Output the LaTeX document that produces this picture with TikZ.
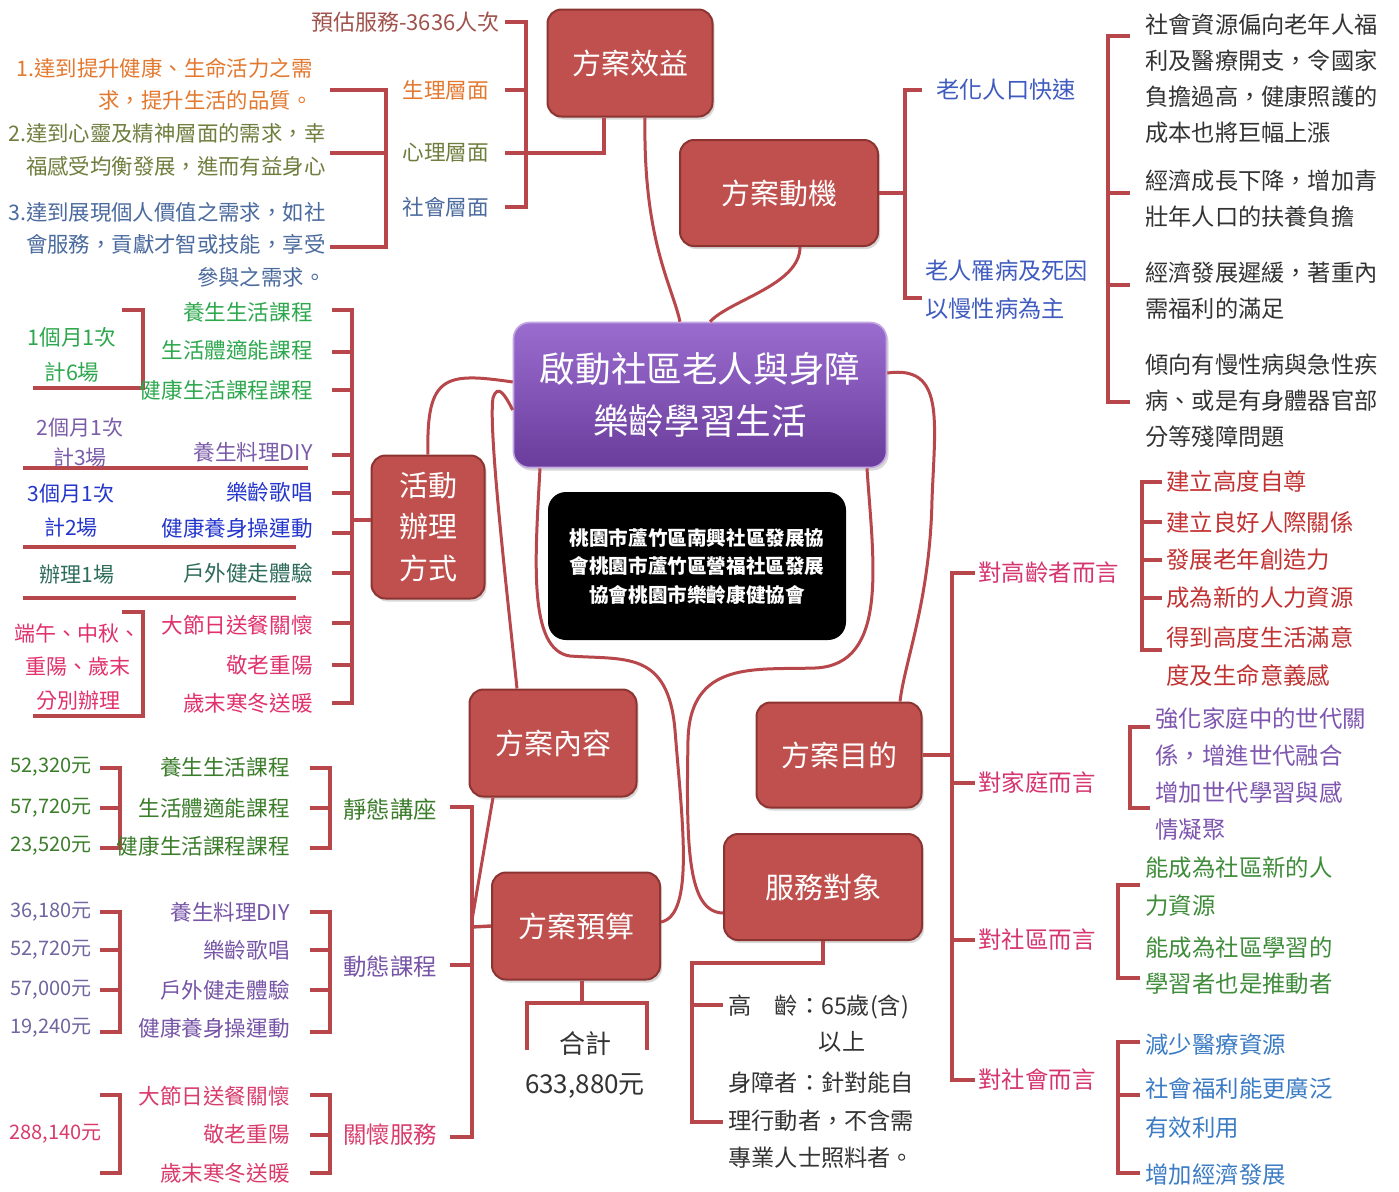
\documentclass[tikz,border=0pt]{standalone}
\usepackage{fontspec}
\setmainfont{Noto Sans CJK TC}
\usetikzlibrary{calc,shadows}
\newcommand\myfs[2]{\fontsize{#1}{#2}\selectfont}
\definecolor{boxred}{HTML}{C0504D}
\definecolor{boxedge}{HTML}{8C3432}
\definecolor{conn}{HTML}{B8474C}
\definecolor{ptop}{HTML}{9A6CCF}
\definecolor{pbot}{HTML}{6A3D9C}
\definecolor{cEst}{HTML}{A0524C}
\definecolor{cOrange}{HTML}{E3782F}
\definecolor{cOlive}{HTML}{6F7E3E}
\definecolor{cSteel}{HTML}{4B6A9E}
\definecolor{cBlueA}{HTML}{3F5BBF}
\definecolor{cGray}{HTML}{333333}
\definecolor{cGreenA}{HTML}{2EA84E}
\definecolor{cPurA}{HTML}{7B5CA9}
\definecolor{cBlueB}{HTML}{2536CC}
\definecolor{cTeal}{HTML}{2D6B5A}
\definecolor{cPink}{HTML}{E0316B}
\definecolor{cGreenB}{HTML}{3B7D2B}
\definecolor{cPurB}{HTML}{7654A6}
\definecolor{cAmtP}{HTML}{6E67A0}
\definecolor{cPinkB}{HTML}{D93C6C}
\definecolor{cPinkL}{HTML}{D6346F}
\definecolor{cRed}{HTML}{C23232}
\definecolor{cPurF}{HTML}{7E55AF}
\definecolor{cGreenC}{HTML}{3F8C3A}
\definecolor{cBlueC}{HTML}{3B7CC5}
\begin{document}
\begin{tikzpicture}[x=0.5pt,y=-0.5pt,
  rbox/.style={draw=boxedge, line width=1pt, fill=boxred, rounded corners=7pt, text=white,
    font=\myfs{14.5}{20.75}, align=center, inner sep=0pt,
    drop shadow={opacity=0.3,shadow xshift=1pt,shadow yshift=-1.5pt}},
  link/.style={draw=conn, line width=1.5pt},
  brk/.style={draw=conn, line width=1.7pt},
  lab/.style={inner sep=0pt},
  fa/.style={font=\myfs{10.8}{14}},
  fb/.style={font=\myfs{11.7}{14}},
  fam/.style={font=\myfs{10}{14}}
]
\fill[white] (0,0) rectangle (1399,1191);
\useasboundingbox (0,0) rectangle (1399,1191);

% ---------- boxes ----------
\node[rbox, minimum width=82.5pt, minimum height=53.5pt] (b1) at (630,63) {方案效益};
\node[rbox, minimum width=99pt, minimum height=53pt] (b2) at (779,193) {方案動機};
\node[rbox, minimum width=56.5pt, minimum height=71.5pt] (b3) at (428,527) {活動\\辦理\\方式};
\node[rbox, minimum width=83.5pt, minimum height=53.5pt] (b4) at (553,743) {方案內容};
\node[rbox, minimum width=82.5pt, minimum height=52.5pt] (b5) at (839,755) {方案目的};
\node[rbox, minimum width=84pt, minimum height=53.5pt] (b6) at (576,926) {方案預算};
\node[rbox, minimum width=99pt, minimum height=53pt] (b7) at (823,887) {服務對象};
\node[draw=ptop!60!white, line width=0.8pt, top color=ptop, bottom color=pbot, rounded corners=8pt,
  minimum width=186.5pt, minimum height=72.5pt, inner sep=0pt, text=white, align=center,
  font=\myfs{17.8}{26}, drop shadow={opacity=0.3,shadow xshift=1pt,shadow yshift=-1.5pt}]
  (main) at (700,395) {啟動社區老人與身障\\樂齡學習生活};
\node[fill=black, rounded corners=9pt, minimum width=149pt, minimum height=74pt, inner sep=0pt,
  text=white, align=center, font=\bfseries\myfs{9.8}{14.25}]
  (org) at (697,566) {桃園市蘆竹區南興社區發展協\\會桃園市蘆竹區營福社區發展\\協會桃園市樂齡康健協會};

% ---------- curved connectors to main ----------
\draw[link] ($(b1.south)+(15,0)$) .. controls (643,240) and (672,285) .. ($(main.north)+(-20,0)$);
\draw[link] ($(b2.south)+(21,0)$) .. controls (800,285) and (730,300) .. ($(main.north)+(10,0)$);
\draw[link] (b3.north) .. controls (426,375) and (445,372) .. ($(main.west)+(0,-13)$);
\draw[link] ($(main.west)+(0,15)$) .. controls (505,395) and (498,383) .. (493,398)
  .. controls (488,430) and (508,600) .. ($(b4.north)+(-36,0)$);
\draw[link] ($(main.south)+(-160,0)$) .. controls (535,560) and (528,650) .. (570,656)
  .. controls (625,660) and (668,650) .. (675,730) .. controls (682,820) and (695,915) .. ($(b6.east)+(0,-4)$);
\draw[link] ($(main.south)+(167,0)$) .. controls (873,560) and (890,665) .. (815,668)
  .. controls (755,670) and (690,660) .. (688,740) .. controls (686,850) and (688,912) .. ($(b7.west)+(0,26)$);
\draw[link] ($(main.east)+(0,-22)$) .. controls (945,365) and (935,420) .. (932,500)
  .. controls (930,600) and (905,660) .. ($(b5.north)+(61,0)$);
\draw[link] ($(b4.south)+(-60,0)$) -- (472,920);

% ---------- brackets ----------
% benefits
\draw[brk] (505,22) -- (526,22) -- (526,207) -- (505,207);
\draw[brk] (505,90) -- (526,90);
\draw[brk] (505,153) -- (604,153) -- ($(b1.south)+(-26,0)$);
\draw[brk] (330,90) -- (386,90) -- (386,247) -- (330,247);
\draw[brk] (330,153) -- (386,153);
% motivation
\draw[brk] (b2.east) -- (905,193);
\draw[brk] (922,90) -- (905,90) -- (905,298) -- (922,298);
\draw[brk] (1130,36) -- (1108,36) -- (1108,402) -- (1130,402);
\draw[brk] (1108,193) -- (1130,193);
\draw[brk] (1108,285) -- (1130,285);
% activities
\draw[brk] (332,310) -- (352,310) -- (352,703) -- (332,703);
\foreach \yy in {352,390,455,493,533,573,623,665} \draw[brk] (332,\yy) -- (352,\yy);
\draw[brk] (352,520) -- ($(b3.west)+(0,-7)$);
\draw[brk] (122,310) -- (143,310) -- (143,388) -- (33,388);
\draw[brk] (23,468) -- (308,468);
\draw[brk] (23,547) -- (296,547);
\draw[brk] (23,598) -- (296,598);
\draw[brk] (122,612) -- (143,612) -- (143,716) -- (33,716);
% purpose
\draw[brk] (b5.east) -- (952,755);
\draw[brk] (975,573) -- (952,573) -- (952,1080) -- (975,1080);
\draw[brk] (952,783) -- (975,783);
\draw[brk] (952,940) -- (975,940);
\draw[brk] (1162,482) -- (1142,482) -- (1142,650) -- (1162,650);
\foreach \yy in {522,560,598} \draw[brk] (1142,\yy) -- (1162,\yy);
\draw[brk] (1150,727) -- (1130,727) -- (1130,808) -- (1150,808);
\draw[brk] (1140,885) -- (1118,885) -- (1118,978) -- (1140,978);
\draw[brk] (1140,1042) -- (1118,1042) -- (1118,1173) -- (1140,1173);
\draw[brk] (1118,1095) -- (1140,1095);
% budget
\draw[brk] (450,807) -- (472,807) -- (472,1137) -- (450,1137);
\draw[brk] (450,965) -- (472,965);
\draw[brk] (472,927) -- (b6.west);
\draw[brk] (310,768) -- (330,768) -- (330,848) -- (310,848);
\draw[brk] (310,808) -- (330,808);
\draw[brk] (100,768) -- (120,768) -- (120,848) -- (100,848);
\draw[brk] (100,808) -- (120,808);
\draw[brk] (310,912) -- (330,912) -- (330,1032) -- (310,1032);
\foreach \yy in {950,990} \draw[brk] (310,\yy) -- (330,\yy);
\draw[brk] (100,912) -- (120,912) -- (120,1032) -- (100,1032);
\foreach \yy in {950,990} \draw[brk] (100,\yy) -- (120,\yy);
\draw[brk] (310,1095) -- (330,1095) -- (330,1173) -- (310,1173);
\draw[brk] (310,1135) -- (330,1135);
\draw[brk] (100,1095) -- (120,1095) -- (120,1173) -- (100,1173);
\draw[brk] ($(b6.south)+(6,0)$) -- (582,1003);
\draw[brk] (527,1050) -- (527,1003) -- (647,1003) -- (647,1050);
% service targets
\draw[brk] (b7.south) -- (823,963) -- (692,963) -- (692,1122) -- (723,1122);
\draw[brk] (692,1005) -- (723,1005);

% ---------- texts: benefits ----------
\node[lab, anchor=east, text=cEst, font=\myfs{11}{14}] (est) at (500,22) {預估服務-3636人次};
\node[lab, anchor=north east, align=right, text=cOrange, font=\myfs{10.7}{16}] (d1) at (313,58)
  {1.達到提升健康、生命活力之需\\求，提升生活的品質。};
\node[lab, anchor=north east, align=right, text=cOlive, font=\myfs{10.7}{16.5}] (d2) at (326,123)
  {2.達到心靈及精神層面的需求，幸\\福感受均衡發展，進而有益身心};
\node[lab, anchor=north east, align=right, text=cSteel, font=\myfs{10.7}{16.25}] (d3) at (326,202)
  {3.達到展現個人價值之需求，如社\\會服務，貢獻才智或技能，享受\\參與之需求。};
\node[lab, fa, anchor=west, text=cOrange] (p1) at (402,90) {生理層面};
\node[lab, fa, anchor=west, text=cOlive] (p2) at (402,153) {心理層面};
\node[lab, fa, anchor=west, text=cSteel] (p3) at (402,207) {社會層面};

% ---------- texts: motivation ----------
\node[lab, anchor=west, text=cBlueA, font=\myfs{11.6}{18.5}] (m1) at (936,90) {老化人口快速};
\node[lab, anchor=north west, align=left, text=cBlueA, font=\myfs{11.6}{19}] (m2) at (925,260) {老人罹病及死因\\以慢性病為主};
\node[lab, anchor=north west, align=left, text=cGray, font=\myfs{11.6}{18}] (r1) at (1145,13.6)
  {社會資源偏向老年人福\\利及醫療開支，令國家\\負擔過高，健康照護的\\成本也將巨幅上漲};
\node[lab, anchor=north west, align=left, text=cGray, font=\myfs{11.6}{18}] (r2) at (1145,169.6)
  {經濟成長下降，增加青\\壯年人口的扶養負擔};
\node[lab, anchor=north west, align=left, text=cGray, font=\myfs{11.6}{18}] (r3) at (1145,261.6)
  {經濟發展遲緩，著重內\\需福利的滿足};
\node[lab, anchor=north west, align=left, text=cGray, font=\myfs{11.6}{18}] (r4) at (1145,353.6)
  {傾向有慢性病與急性疾\\病、或是有身體器官部\\分等殘障問題};

% ---------- texts: activities ----------
\node[lab, fa, anchor=east, text=cGreenA] (a1) at (313,312) {養生生活課程};
\node[lab, fa, anchor=east, text=cGreenA] (a2) at (313,350) {生活體適能課程};
\node[lab, fa, anchor=east, text=cGreenA] (a3) at (313,390) {健康生活課程課程};
\node[lab, fa, anchor=east, text=cPurA] (a4) at (313,452) {養生料理DIY};
\node[lab, fa, anchor=east, text=cBlueB] (a5) at (313,492) {樂齡歌唱};
\node[lab, fa, anchor=east, text=cBlueB] (a6) at (313,528) {健康養身操運動};
\node[lab, fa, anchor=east, text=cTeal] (a7) at (313,573) {戶外健走體驗};
\node[lab, fa, anchor=east, text=cPink] (a8) at (313,625) {大節日送餐關懷};
\node[lab, fa, anchor=east, text=cPink] (a9) at (313,665) {敬老重陽};
\node[lab, fa, anchor=east, text=cPink] (a10) at (313,703) {歲末寒冬送暖};
\node[lab, anchor=north, align=center, text=cGreenA, font=\myfs{10.8}{17.5}] (g1) at (72,327) {1個月1次\\計6場};
\node[lab, anchor=north, align=center, text=cPurA, font=\myfs{10.5}{15}] (g2) at (80,417) {2個月1次\\計3場};
\node[lab, anchor=north, align=center, text=cBlueB, font=\myfs{10.5}{17}] (g3) at (71,483) {3個月1次\\計2場};
\node[lab, anchor=center, text=cTeal, font=\myfs{10.5}{14}] (g4) at (77,575) {辦理1場};
\node[lab, anchor=north, align=center, text=cPink, font=\myfs{10.5}{16.75}] (g5) at (78,623) {端午、中秋、\\重陽、歲末\\分別辦理};

% ---------- texts: purpose ----------
\node[lab, fb, anchor=west, text=cPinkL] (q1) at (978,573) {對高齡者而言};
\node[lab, fb, anchor=west, text=cPinkL] (q2) at (978,783) {對家庭而言};
\node[lab, fb, anchor=west, text=cPinkL] (q3) at (978,940) {對社區而言};
\node[lab, fb, anchor=west, text=cPinkL] (q4) at (978,1080) {對社會而言};
\node[lab, fb, anchor=west, text=cRed] (e1) at (1166,482) {建立高度自尊};
\node[lab, fb, anchor=west, text=cRed] (e2) at (1166,522) {建立良好人際關係};
\node[lab, fb, anchor=west, text=cRed] (e3) at (1166,560) {發展老年創造力};
\node[lab, fb, anchor=west, text=cRed] (e4) at (1166,598) {成為新的人力資源};
\node[lab, anchor=north west, align=left, text=cRed, font=\myfs{11.7}{19}] (e5) at (1166,626.5) {得到高度生活滿意\\度及生命意義感};
\node[lab, anchor=north west, align=left, text=cPurF, font=\myfs{11.7}{18.5}] (f1) at (1155,707.5)
  {強化家庭中的世代關\\係，增進世代融合\\增加世代學習與感\\情凝聚};
\node[lab, anchor=north west, align=left, text=cGreenC, font=\myfs{11.7}{19}] (c1) at (1145,856.5) {能成為社區新的人\\力資源};
\node[lab, anchor=north west, align=left, text=cGreenC, font=\myfs{11.7}{18}] (c2) at (1145,936.5) {能成為社區學習的\\學習者也是推動者};
\node[lab, fb, anchor=west, text=cBlueC] (s1) at (1145,1045) {減少醫療資源};
\node[lab, anchor=north west, align=left, text=cBlueC, font=\myfs{11.7}{19.5}] (s2) at (1145,1077.5) {社會福利能更廣泛\\有效利用};
\node[lab, fb, anchor=west, text=cBlueC] (s3) at (1145,1175) {增加經濟發展};

% ---------- texts: budget ----------
\node[lab, fb, anchor=west, text=cGreenB] (k1) at (343,810) {靜態講座};
\node[lab, fb, anchor=west, text=cPurB] (k2) at (343,967) {動態課程};
\node[lab, fb, anchor=west, text=cPinkB] (k3) at (343,1135) {關懷服務};
\node[lab, fa, anchor=east, text=cGreenB] (i1) at (290,767) {養生生活課程};
\node[lab, fa, anchor=east, text=cGreenB] (i2) at (290,808) {生活體適能課程};
\node[lab, fa, anchor=east, text=cGreenB] (i3) at (290,846) {健康生活課程課程};
\node[lab, fa, anchor=east, text=cPurB] (i4) at (290,912) {養生料理DIY};
\node[lab, fa, anchor=east, text=cPurB] (i5) at (290,950) {樂齡歌唱};
\node[lab, fa, anchor=east, text=cPurB] (i6) at (290,990) {戶外健走體驗};
\node[lab, fa, anchor=east, text=cPurB] (i7) at (290,1028) {健康養身操運動};
\node[lab, fa, anchor=east, text=cPinkB] (i8) at (290,1096) {大節日送餐關懷};
\node[lab, fa, anchor=east, text=cPinkB] (i9) at (290,1134) {敬老重陽};
\node[lab, fa, anchor=east, text=cPinkB] (i10) at (290,1173) {歲末寒冬送暖};
\node[lab, fam, anchor=east, text=cGreenB] (n1) at (92,767) {52,320元};
\node[lab, fam, anchor=east, text=cGreenB] (n2) at (92,808) {57,720元};
\node[lab, fam, anchor=east, text=cGreenB] (n3) at (92,846) {23,520元};
\node[lab, fam, anchor=east, text=cAmtP] (n4) at (92,912) {36,180元};
\node[lab, fam, anchor=east, text=cAmtP] (n5) at (92,950) {52,720元};
\node[lab, fam, anchor=east, text=cAmtP] (n6) at (92,990) {57,000元};
\node[lab, fam, anchor=east, text=cAmtP] (n7) at (92,1028) {19,240元};
\node[lab, fam, anchor=east, text=cPinkB] (n8) at (102,1134) {288,140元};
\node[lab, anchor=north, align=center, text=cGray, font=\myfs{13}{20}] (tot) at (585,1031) {合計\\633,880元};

% ---------- texts: service targets ----------
\node[lab, anchor=north west, align=left, text=cGray, font=\myfs{11.6}{18}] (v1) at (728,994.6)
  {高　齡：65歲(含)\\\hspace*{3.9em}以上};
\node[lab, anchor=north west, align=left, text=cGray, font=\myfs{11.6}{18.75}] (v2) at (728,1071.6)
  {身障者：針對能自\\理行動者，不含需\\專業人士照料者。};
\end{tikzpicture}
\end{document}
